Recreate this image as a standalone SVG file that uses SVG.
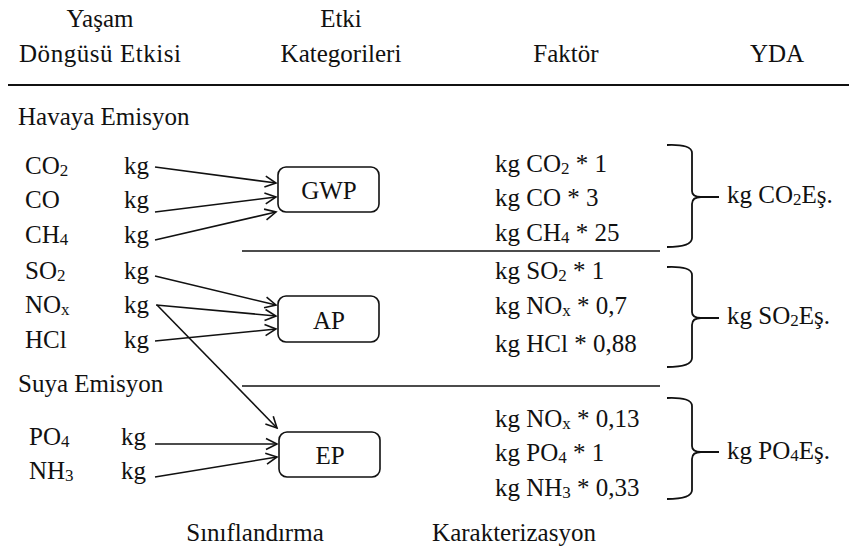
<svg xmlns="http://www.w3.org/2000/svg" width="849" height="551" viewBox="0 0 849 551">
  <defs>
    <marker id="arr" markerWidth="14" markerHeight="14" refX="12" refY="7" orient="auto" markerUnits="userSpaceOnUse">
      <path d="M1,1.5 L12,7 L1,12.5" fill="none" stroke="#111" stroke-width="1.6"/>
    </marker>
    <style>
      .t { font-family: 'Liberation Serif', 'DejaVu Serif', serif; font-size: 25px; fill: #111; }
      .sub { font-size: 17px; }
      .mid { text-anchor: middle; }
      .box { fill: #fff; stroke: #111; stroke-width: 1.6; }
      .conn { stroke: #111; stroke-width: 1.6; fill: none; marker-end: url(#arr); }
      .rule { stroke: #111; stroke-width: 1.5; }
      .brace { stroke: #111; stroke-width: 1.8; fill: none; }
    </style>
  </defs>
  <rect width="849" height="551" fill="#fff"/>

  <!-- table rules -->
  <line x1="8" y1="85" x2="849" y2="85" stroke="#111" stroke-width="2.2"/>
  <line class="rule" x1="242" y1="251" x2="660" y2="251"/>
  <line class="rule" x1="242" y1="386" x2="660" y2="386"/>

  <g class="t" font-family="Liberation Serif, DejaVu Serif, serif">
    <!-- column headings -->
    <g id="headings">
      <text x="100" y="27" class="mid">Yaşam</text>
      <text x="100" y="62" class="mid" textLength="162" lengthAdjust="spacing">Döngüsü Etkisi</text>
      <text x="341" y="27" class="mid">Etki</text>
      <text x="341" y="62" class="mid">Kategorileri</text>
      <text x="566" y="62" class="mid">Faktör</text>
      <text x="777" y="62" class="mid">YDA</text>
    </g>

    <!-- emission sources -->
    <g id="sources">
      <text x="18" y="125">Havaya Emisyon</text>
      <text x="25" y="174">CO<tspan class="sub" dy="2">2</tspan></text>
      <text x="124" y="174">kg</text>
      <text x="25" y="208">CO</text>
      <text x="124" y="208">kg</text>
      <text x="25" y="243">CH<tspan class="sub" dy="2">4</tspan></text>
      <text x="124" y="243">kg</text>
      <text x="25" y="279">SO<tspan class="sub" dy="2">2</tspan></text>
      <text x="124" y="279">kg</text>
      <text x="25" y="313">NO<tspan class="sub" dy="2">x</tspan></text>
      <text x="124" y="313">kg</text>
      <text x="25" y="348">HCl</text>
      <text x="124" y="348">kg</text>
      <text x="18" y="392">Suya Emisyon</text>
      <text x="29" y="445">PO<tspan class="sub" dy="2">4</tspan></text>
      <text x="121" y="445">kg</text>
      <text x="29" y="479">NH<tspan class="sub" dy="2">3</tspan></text>
      <text x="121" y="479">kg</text>
    </g>

    <!-- impact categories -->
    <g id="gwp">
      <rect class="box" x="278" y="167" width="101" height="45" rx="8"/>
      <text x="329" y="199" class="mid">GWP</text>
    </g>
    <g id="ap">
      <rect class="box" x="278" y="296" width="101" height="46" rx="8"/>
      <text x="329" y="329" class="mid">AP</text>
    </g>
    <g id="ep">
      <rect class="box" x="279" y="432" width="101" height="45" rx="8"/>
      <text x="330" y="464" class="mid">EP</text>
    </g>

    <!-- characterisation factors -->
    <g id="factors">
      <text x="495" y="172">kg CO<tspan class="sub" dy="2">2</tspan><tspan dy="-2"> * 1</tspan></text>
      <text x="495" y="206">kg CO * 3</text>
      <text x="495" y="241">kg CH<tspan class="sub" dy="2">4</tspan><tspan dy="-2"> * 25</tspan></text>
      <text x="495" y="279">kg SO<tspan class="sub" dy="2">2</tspan><tspan dy="-2"> * 1</tspan></text>
      <text x="495" y="314">kg NO<tspan class="sub" dy="2">x</tspan><tspan dy="-2"> * 0,7</tspan></text>
      <text x="495" y="352">kg HCl * 0,88</text>
      <text x="495" y="427">kg NO<tspan class="sub" dy="2">x</tspan><tspan dy="-2"> * 0,13</tspan></text>
      <text x="495" y="461">kg PO<tspan class="sub" dy="2">4</tspan><tspan dy="-2"> * 1</tspan></text>
      <text x="495" y="496">kg NH<tspan class="sub" dy="2">3</tspan><tspan dy="-2"> * 0,33</tspan></text>
    </g>

    <!-- grouping braces and equivalents -->
    <g id="co2eq">
      <path class="brace" d="M667,145 Q692,144 692,153 L692,191 Q692,197 701,197 Q692,197 692,204 L692,238 Q692,247 667,247 M698,197 L719,197"/>
      <text x="727" y="203">kg CO<tspan class="sub" dy="2">2</tspan><tspan dy="-2">Eş.</tspan></text>
    </g>
    <g id="so2eq">
      <path class="brace" d="M667,267 Q692,266 692,275 L692,312 Q692,318 701,318 Q692,318 692,325 L692,358 Q692,367 667,367 M698,318 L719,318"/>
      <text x="727" y="324">kg SO<tspan class="sub" dy="2">2</tspan><tspan dy="-2">Eş.</tspan></text>
    </g>
    <g id="po4eq">
      <path class="brace" d="M667,398 Q692,397 692,406 L692,446 Q692,452 701,452 Q692,452 692,459 L692,490 Q692,499 667,499 M698,452 L719,452"/>
      <text x="727" y="459">kg PO<tspan class="sub" dy="2">4</tspan><tspan dy="-2">Eş.</tspan></text>
    </g>

    <!-- step labels -->
    <g id="steps">
      <text x="255" y="541" class="mid">Sınıflandırma</text>
      <text x="514" y="541" class="mid">Karakterizasyon</text>
    </g>
  </g>

  <!-- classification connectors -->
  <g id="connectors">
    <line class="conn" x1="155" y1="167" x2="276" y2="183"/>
    <line class="conn" x1="155" y1="212" x2="276" y2="197"/>
    <line class="conn" x1="155" y1="240" x2="276" y2="212"/>
    <line class="conn" x1="155" y1="276" x2="276" y2="305"/>
    <line class="conn" x1="156" y1="305" x2="276" y2="316"/>
    <line class="conn" x1="155" y1="341" x2="276" y2="329"/>
    <line class="conn" x1="157" y1="305" x2="277" y2="428"/>
    <line class="conn" x1="155" y1="444" x2="277" y2="444"/>
    <line class="conn" x1="155" y1="477" x2="277" y2="457"/>
  </g>
</svg>
